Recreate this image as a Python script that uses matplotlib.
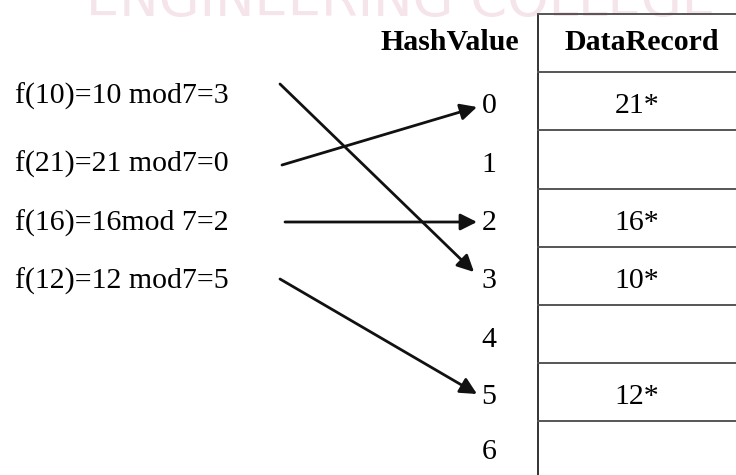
import matplotlib.pyplot as plt

# keys hashed with f(k) = k mod 7
keys = [10, 21, 16, 12]
key_labels = ['f(10)=10 mod7=3', 'f(21)=21 mod7=0', 'f(16)=16mod 7=2', 'f(12)=12 mod7=5']
hash_of_key = [3, 0, 2, 5]
buckets = [0, 1, 2, 3, 4, 5, 6]
records = ['21*', '', '16*', '10*', '', '12*', '']
headers = ['HashValue', 'DataRecord']

W, H = 736, 475
fig = plt.figure(figsize=(W / 100, H / 100), dpi=100)
ax = fig.add_axes([0, 0, 1, 1])
ax.set_xlim(0, W)
ax.set_ylim(H, 0)
ax.axis('off')

serif = ['Liberation Serif', 'DejaVu Serif']
fs = 21.5

# faint watermark, top cut off
ax.text(400, 16, 'ENGINEERING COLLEGE', ha='center', va='baseline', fontsize=38,
        family='DejaVu Sans', color='#f5e4ea', zorder=0)

# table geometry
tab_x = 538
tab_top = 14
row_h = 58.2
ax.plot([tab_x, tab_x], [tab_top, H], color='#333333', lw=1.4)
for i in range(len(buckets) + 1):
    y = tab_top + i * row_h
    ax.plot([tab_x, W], [y, y], color='#555555', lw=1.4)

ax.text(450, 43, headers[0], ha='center', va='center',
        fontsize=fs, fontweight='bold', family=serif)
ax.text(642, 43, headers[1], ha='center', va='center',
        fontsize=fs, fontweight='bold', family=serif)

# text rows sit a little below the row centres
text_y = [106, 165, 223, 281, 340, 397, 452]
for b, yc, rec in zip(buckets, text_y, records):
    ax.text(489, yc, str(b), ha='center', va='center', fontsize=fs, family=serif)
    if rec:
        ax.text(637, yc, rec, ha='center', va='center', fontsize=fs, family=serif)

# left labels and arrows
label_y = [96, 164, 223, 281]
start_pts = [(280, 84), (282, 165), (285, 222), (280, 279)]
end_y = {0: 107, 2: 222, 3: 272, 5: 394}
for lab, yy, h, (sx, sy) in zip(key_labels, label_y, hash_of_key, start_pts):
    ax.text(15, yy, lab, ha='left', va='center', fontsize=fs, family=serif)
    ex = 474 if h == 3 else 477
    ax.annotate('', xy=(ex, end_y[h]), xytext=(sx, sy),
                arrowprops=dict(arrowstyle='-|>', color='#111111', lw=2.0,
                                mutation_scale=25, shrinkA=0, shrinkB=0))

fig.savefig('out.png', dpi=100)
